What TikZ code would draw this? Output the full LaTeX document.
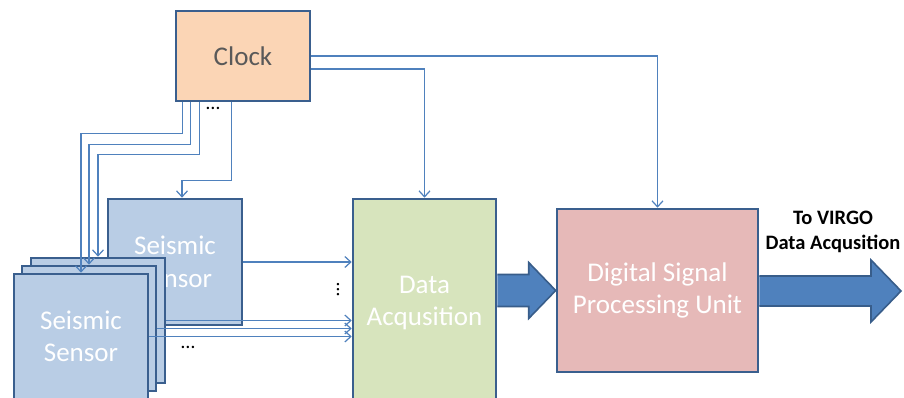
\documentclass[tikz,border=0pt]{standalone}
\usepackage{fontspec}
\setmainfont{Carlito}
\usetikzlibrary{arrows.meta,calc}
\definecolor{edge}{HTML}{3A5F8E}
\definecolor{wirec}{HTML}{4F81BD}
\definecolor{clockfill}{HTML}{FBD5B5}
\definecolor{sensorfill}{HTML}{B9CDE5}
\definecolor{daqfill}{HTML}{D7E4BD}
\definecolor{dspfill}{HTML}{E6B9B8}
\definecolor{arrowfill}{HTML}{4F81BD}
\definecolor{arrowedge}{HTML}{385D8A}
\definecolor{graytext}{HTML}{595959}
\tikzset{
  block/.style={draw=edge, line width=2.6pt, align=center, text=white,
    font=\fontsize{27}{32.5}\selectfont, inner sep=0pt},
  sensor/.style={block, fill=sensorfill, minimum width=134pt, minimum height=125pt},
  wire/.style={draw=wirec, line width=1.3pt, -{Straight Barb[length=6pt,width=11pt,line width=1.2pt]}},
  bigarrow/.style={fill=arrowfill, draw=arrowedge, line width=1.6pt, line join=miter},
  dots/.style={font=\fontsize{20}{20}\selectfont, inner sep=0pt}
}
\begin{document}
\begin{tikzpicture}[x=1pt,y=-1pt]
\clip (0,0) rectangle (904,398);
\fill[white] (0,0) rectangle (904,398);

% main blocks
\node[block, fill=clockfill, text=graytext, minimum width=134pt, minimum height=90pt] (clock) at (243,56) {Clock};
\node[sensor, minimum height=126pt] (big) at (175,262) {Seismic\\Sensor};
\node[sensor] (s3) at (98,320.5) {};
\node[sensor] (s2) at (89,328.5) {};
\node[sensor] (s1) at (81,336.5) {Seismic\\Sensor};
\node[block, fill=daqfill, minimum width=143pt, minimum height=208pt] (daq) at (424.5,303) {Data\\Acqusition};
\node[block, fill=dspfill, minimum width=201pt, minimum height=163pt] (dsp) at (657.5,290.5) {Digital Signal\\Processing Unit};

% clock distribution
\draw[wire] ([xshift=8pt]clock.south west) -- ++(0,31) -| (s1.north);
\draw[wire] ([xshift=16pt]clock.south west) -- ++(0,42) -| (s2.north);
\draw[wire] ([xshift=25pt]clock.south west) -- ++(0,52) -| (s3.north);
\draw[wire] ([xshift=57pt]clock.south west) -- ++(0,78) -| ([xshift=7pt]big.north);
\draw[wire] (clock.east) -| (dsp.north);
\draw[wire] ([yshift=-13pt]clock.east) -| (daq.north);

% sensor outputs
\draw[wire] (big.east) -- (big.east -| daq.west);
\draw[wire] (s3.east) -- (s3.east -| daq.west);
\draw[wire] (s2.east) -- (s2.east -| daq.west);
\draw[wire] (s1.east) -- (s1.east -| daq.west);

% ellipses
\node[dots] (d1) at (213,108) {\ldots};
\node[dots] (d2) at (188,347) {\ldots};
\node[dots, rotate=90] (d3) at (338,290) {\ldots};

% wide arrows
\coordinate (a0) at (daq.east |- dsp.west);
\coordinate (tip1) at (dsp.west);
\fill[arrowfill] ($(a0)+(0,-16)$) -- ($(tip1)+(-27,-16)$) -- ($(tip1)+(-27,-28)$) -- (tip1)
  -- ($(tip1)+(-27,28)$) -- ($(tip1)+(-27,16)$) -- ($(a0)+(0,16)$) -- cycle;
\draw[bigarrow, fill=none] ($(a0)+(0,-16)$) -- ($(tip1)+(-27,-16)$) -- ($(tip1)+(-27,-28)$) -- (tip1)
  -- ($(tip1)+(-27,28)$) -- ($(tip1)+(-27,16)$) -- ($(a0)+(0,16)$);

\coordinate (out) at (901,291);
\coordinate (b0) at (dsp.east |- out);
\fill[arrowfill] ($(b0)+(0,-15)$) -- ($(out)+(-30,-15)$) -- ($(out)+(-30,-31)$) -- (out)
  -- ($(out)+(-30,31)$) -- ($(out)+(-30,15)$) -- ($(b0)+(0,15)$) -- cycle;
\draw[bigarrow, fill=none] ($(b0)+(0,-15)$) -- ($(out)+(-30,-15)$) -- ($(out)+(-30,-31)$) -- (out)
  -- ($(out)+(-30,31)$) -- ($(out)+(-30,15)$) -- ($(b0)+(0,15)$);

\node[align=center, font=\bfseries\fontsize{20.5}{25}\selectfont, inner sep=0pt] (lbl) at (833,232) {To VIRGO\\Data Acqusition};
\end{tikzpicture}
\end{document}
